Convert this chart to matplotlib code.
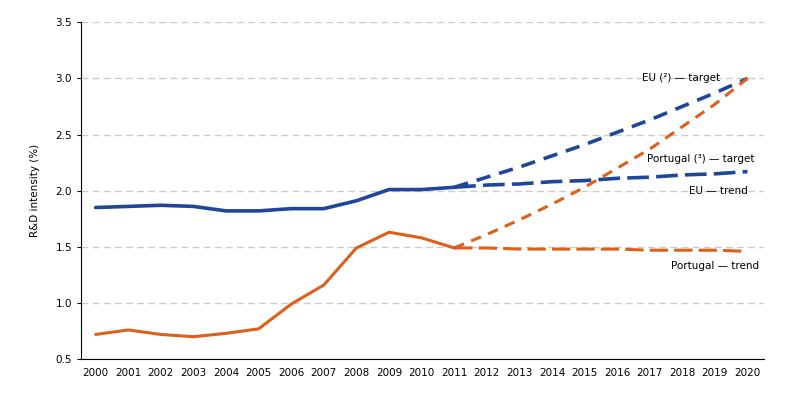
import matplotlib
matplotlib.use("Agg")
import matplotlib.pyplot as plt

# historical data 2000-2011
years = list(range(2000, 2012))
eu = [1.85, 1.86, 1.87, 1.86, 1.82, 1.82, 1.84, 1.84, 1.91, 2.01, 2.01, 2.03]
portugal = [0.72, 0.76, 0.72, 0.70, 0.73, 0.77, 0.99, 1.16, 1.49, 1.63, 1.58, 1.49]

# projections 2011-2020
proj_years = list(range(2011, 2021))
eu_target = [2.03, 2.12, 2.21, 2.31, 2.41, 2.52, 2.63, 2.75, 2.87, 3.00]
eu_trend = [2.03, 2.05, 2.06, 2.08, 2.09, 2.11, 2.12, 2.14, 2.15, 2.17]
pt_target = [1.49, 1.61, 1.74, 1.88, 2.03, 2.20, 2.37, 2.57, 2.77, 3.00]
pt_trend = [1.49, 1.49, 1.48, 1.48, 1.48, 1.48, 1.47, 1.47, 1.47, 1.46]

blue = "#1f4799"
orange = "#dd5f1a"

fig = plt.figure(figsize=(7.94, 3.96), dpi=100)
ax = fig.add_axes([0.102, 0.093, 0.86, 0.851])

ax.plot(years, eu, color=blue, lw=2.6, solid_capstyle="round")
ax.plot(years, portugal, color=orange, lw=2.2, solid_capstyle="round")
ax.plot(proj_years, eu_target, color=blue, lw=2.6, dashes=(4, 2.5))
ax.plot(proj_years, eu_trend, color=blue, lw=2.6, dashes=(6, 2))
ax.plot(proj_years, pt_target, color=orange, lw=2.2, dashes=(3.5, 2.5))
ax.plot(proj_years, pt_trend, color=orange, lw=2.2, dashes=(6, 2))

ax.set_xlim(1999.55, 2020.5)
ax.set_ylim(0.5, 3.5)
ax.set_xticks(range(2000, 2021))
ax.set_yticks([0.5, 1.0, 1.5, 2.0, 2.5, 3.0, 3.5])
ax.tick_params(axis="x", length=0, labelsize=7.5, pad=6)
ax.tick_params(axis="y", length=3, labelsize=7.5)
ax.yaxis.grid(True, color="#cccccc", lw=1, dashes=(5, 3))
ax.set_axisbelow(True)
for s in ["top", "right"]:
    ax.spines[s].set_visible(False)
ax.set_ylabel("R&D intensity (%)", fontsize=7.5, labelpad=11)

ax.text(2017.95, 3.0, "EU (²) — target", fontsize=7.5, ha="center", va="center")
ax.text(2018.57, 2.28, "Portugal (³) — target", fontsize=7.5, ha="center", va="center")
ax.text(2019.1, 2.0, "EU — trend", fontsize=7.5, ha="center", va="center")
ax.text(2019.0, 1.33, "Portugal — trend", fontsize=7.5, ha="center", va="center")

fig.savefig("out.png", dpi=100)
